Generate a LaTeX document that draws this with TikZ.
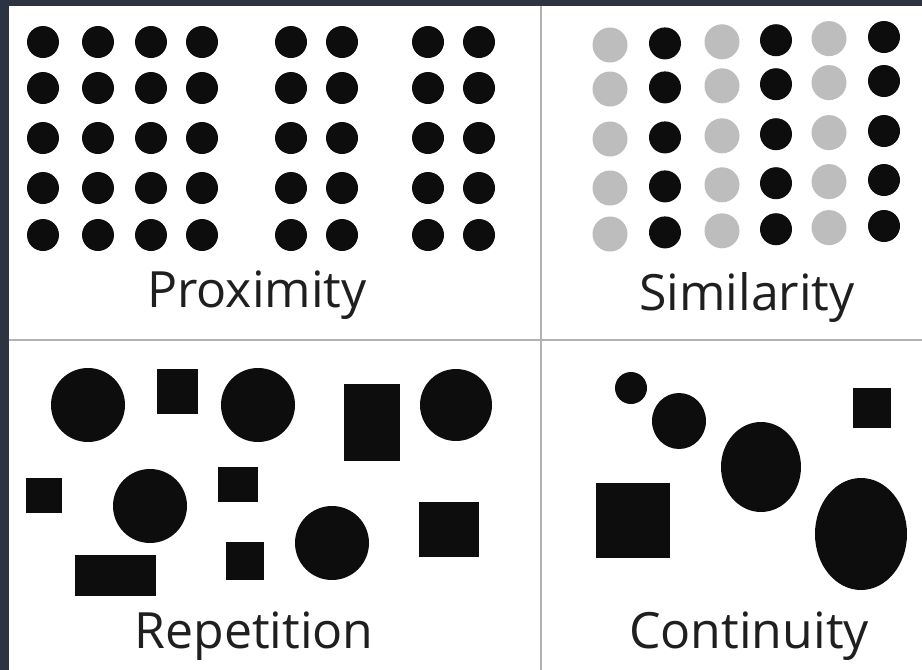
\documentclass[tikz,border=0pt]{standalone}
\usepackage{fontspec}
\setmainfont{Open Sans}
\usetikzlibrary{positioning}
\definecolor{framedark}{HTML}{2B3440}
\definecolor{dotgray}{HTML}{BDBDBD}
\definecolor{inkblack}{HTML}{0D0D0D}
\tikzset{
  gdot/.style={fill=inkblack},
  gdotlight/.style={fill=dotgray},
  gshape/.style={fill=inkblack},
  glabel/.style={anchor=base, inner sep=0pt, text=black!88, font=\fontsize{50}{50}\selectfont},
  grule/.style={draw=gray!60, line width=2pt},
}

\begin{document}
\begin{tikzpicture}[x=1pt, y=-1pt]
  \useasboundingbox (0,0) rectangle (922,670);
  \fill[framedark] (0,0) rectangle (922,670);
  \fill[white] (9,6) rectangle (922,670);
  % panel dividers
  \draw[grule] (541,6) -- (541,670);
  \draw[grule] (9,340) -- (922,340);

  % proximity
  \foreach \x in {43,98,151,202,291,342,428,479}
    \foreach \y in {42,88,138,188,235}
      \fill[gdot] (\x,\y) circle[radius=16pt];
  \node[glabel] (proximity) at (257,307) {Proximity};

  % similarity
  \foreach \x [count=\i from 0] in {610,665,722,776,829,884}
    \foreach \y in {41,85,135,184,230} {
      \pgfmathsetmacro{\yy}{\y+(2.5-\i)*1.6}
      \ifodd\i
        \fill[gdot] (\x,\yy) circle[radius=16pt];
      \else
        \fill[gdotlight] (\x,\yy) circle[radius=17.5pt];
      \fi
    }
  \node[glabel] (similarity) at (747,310) {Similarity};

  % repetition
  \foreach \x/\y/\r in {88/405/37, 258/405/37, 456/405/36, 150/506/37, 332/543/37}
    \fill[gshape] (\x,\y) circle[radius=\r pt];
  \foreach \xa/\ya/\xb/\yb in {157/369/198/414, 344/384/400/461, 26/478/62/513,
      218/467/258/502, 226/542/264/580, 75/555/156/596, 419/502/479/557}
    \fill[gshape] (\xa,\ya) rectangle (\xb,\yb);
  \node[glabel] (repetition) at (254,648) {Repetition};

  % continuity
  \foreach \x/\y/\rx/\ry in {631/388/16/16, 679/421/27/28, 761/467/40/45, 861/534/46/56}
    \fill[gshape] (\x,\y) ellipse[x radius=\rx pt, y radius=\ry pt];
  \fill[gshape] (853,388) rectangle (891,428);
  \fill[gshape] (596,483) rectangle (670,558);
  \node[glabel] (continuity) at (749,648) {Continuity};
\end{tikzpicture}
\end{document}
